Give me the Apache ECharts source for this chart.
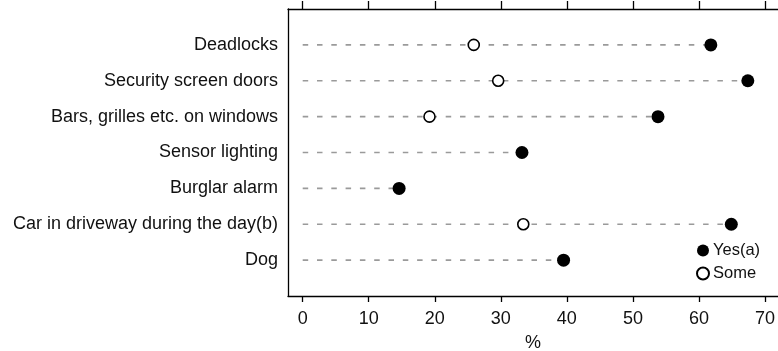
<!DOCTYPE html>
<html>
<head>
<meta charset="utf-8">
<script src="https://cdn.jsdelivr.net/npm/echarts@6/dist/echarts.min.js"></script>
<style>
  html, body { margin: 0; padding: 0; background: #fff; }
  #chart { width: 778px; height: 351px; }
</style>
</head>
<body>
<div id="chart"></div>
<script>
// Home security measures, share of dwellings (%)
const categories = [
  'Deadlocks',
  'Security screen doors',
  'Bars, grilles etc. on windows',
  'Sensor lighting',
  'Burglar alarm',
  'Car in driveway during the day(b)',
  'Dog'
];
const yesValues = [61.8, 67.4, 53.8, 33.2, 14.6, 64.9, 39.5];
const someValues = [25.9, 29.6, 19.2, null, null, 33.4, null];
const xTicks = [0, 10, 20, 30, 40, 50, 60, 70];
const rowIndex = categories.map((_, i) => i);

const FONT = '"Liberation Sans", Arial, sans-serif';
const chart = echarts.init(document.getElementById('chart'), null, { renderer: 'canvas' });

// the frame starts a little left of zero and runs to the right edge
const xRange = { min: -2.226, max: 71.97 };

const lineBlack = { color: '#000', width: 1.3 };

chart.setOption({
  animation: false,
  backgroundColor: '#ffffff',
  textStyle: { fontFamily: FONT, color: '#111' },
  grid: { left: 288, top: 9, right: 0, height: 287, containLabel: false, outerBoundsMode: 'none' },
  legend: {
    orient: 'vertical',
    left: 696,
    top: 242,
    itemWidth: 12,
    itemHeight: 12,
    itemGap: 6,
    padding: 0,
    textStyle: { fontFamily: FONT, fontSize: 16.5, color: '#111', padding: [0, 0, 0, -1] },
    data: ['Yes(a)', 'Some']
  },
  xAxis: [
    {
      type: 'value',
      position: 'bottom',
      min: xRange.min,
      max: xRange.max,
      splitLine: { show: false },
      axisLine: { show: true, onZero: false, lineStyle: lineBlack },
      axisTick: { show: true, customValues: xTicks, length: 6, lineStyle: lineBlack },
      axisLabel: { customValues: xTicks, fontSize: 18, color: '#111', margin: 14, fontFamily: FONT },
      name: '%',
      nameLocation: 'middle',
      nameGap: 38,
      nameTextStyle: { fontSize: 18, color: '#111', fontFamily: FONT }
    },
    {
      type: 'value',
      position: 'top',
      min: xRange.min,
      max: xRange.max,
      splitLine: { show: false },
      axisLine: { show: true, onZero: false, lineStyle: lineBlack },
      axisTick: { show: true, inside: false, customValues: xTicks, length: 8, lineStyle: lineBlack },
      axisLabel: { show: false }
    }
  ],
  yAxis: {
    type: 'value',
    inverse: true,
    min: -1,
    max: 7,
    interval: 1,
    splitLine: { show: false },
    axisLine: { show: true, onZero: false, lineStyle: lineBlack },
    axisTick: { show: false },
    axisLabel: {
      customValues: rowIndex,
      formatter: v => categories[v] || '',
      fontSize: 18,
      color: '#111',
      margin: 10,
      fontFamily: FONT
    }
  },
  series: [
    {
      // dashed guide from zero to the "Yes" value of each row
      type: 'custom',
      name: 'guide',
      silent: true,
      z: 1,
      data: yesValues.map((v, i) => [v, i]),
      renderItem: (params, api) => {
        const end = api.coord([api.value(0), api.value(1)]);
        const start = api.coord([0, api.value(1)]);
        return {
          type: 'line',
          shape: { x1: start[0], y1: start[1], x2: end[0], y2: end[1] },
          style: { stroke: '#9a9a9a', lineWidth: 1.6, lineDash: [5.5, 8.8] }
        };
      }
    },
    {
      type: 'scatter',
      name: 'Yes(a)',
      z: 3,
      symbol: 'circle',
      symbolSize: 13,
      itemStyle: { color: '#000', borderColor: '#000', borderWidth: 0, opacity: 1 },
      data: yesValues.map((v, i) => [v, i])
    },
    {
      type: 'scatter',
      name: 'Some',
      z: 3,
      symbol: 'circle',
      symbolSize: 11,
      itemStyle: { color: '#fff', borderColor: '#000', borderWidth: 1.6, opacity: 1 },
      data: someValues.map((v, i) => (v == null ? null : [v, i])).filter(d => d)
    }
  ]
});
</script>
</body>
</html>
